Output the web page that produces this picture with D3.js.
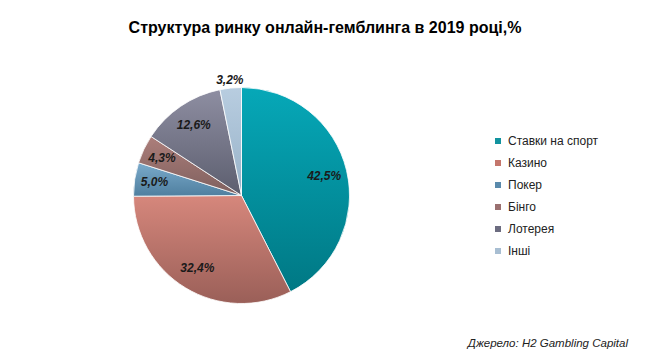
<!DOCTYPE html>
<html>
<head>
<meta charset="utf-8">
<script src="https://cdn.jsdelivr.net/npm/d3@7"></script>
<style>
body { margin: 0; background: #fff; }
svg { font-family: "Liberation Sans", Arial, sans-serif; }
</style>
</head>
<body>
<div id="chart"></div>
<script>
// chart data
var categories = ["Ставки на спорт", "Казино", "Покер", "Бінго", "Лотерея", "Інші"];
var values = [42.5, 32.4, 5.0, 4.3, 12.6, 3.2];
var labels = ["42,5%", "32,4%", "5,0%", "4,3%", "12,6%", "3,2%"];
// light (top) and dark (bottom) colour of each slice
var lightColors = ["#06a8b8", "#d6877c", "#7aaacb", "#ac7e7a", "#8e8ea2", "#b8cde0"];
var darkColors  = ["#007884", "#9a5f58", "#4f7f9f", "#7e605e", "#5c5e6e", "#98b2c8"];
var legendColors = ["#12939f", "#c4766c", "#5a8aac", "#9a7070", "#6c6c80", "#a8bed2"];

var width = 647, height = 361;
var cx = 241.5, cy = 195.5, radius = 108;

var svg = d3.select("#chart").append("svg")
	.attr("width", width)
	.attr("height", height);

// title
svg.append("text")
	.attr("x", 325)
	.attr("y", 33)
	.attr("text-anchor", "middle")
	.attr("font-size", "16px")
	.attr("font-weight", "bold")
	.text("Структура ринку онлайн-гемблинга в 2019 році,%");

// each slice gets its own top-to-bottom gradient
var defs = svg.append("defs");
categories.forEach(function(c, i) {
	var g = defs.append("linearGradient")
		.attr("id", "grad" + i)
		.attr("x1", 0).attr("y1", 0)
		.attr("x2", 0).attr("y2", 1);
	g.append("stop").attr("offset", "0%").attr("stop-color", lightColors[i]);
	g.append("stop").attr("offset", "100%").attr("stop-color", darkColors[i]);
});

var pie = d3.pie().sort(null).value(function(d) { return d; });
var arcs = pie(values);
var arc = d3.arc().innerRadius(0).outerRadius(radius);

var g = svg.append("g");

g.selectAll("path")
	.data(arcs)
	.enter()
	.append("path")
	.attr("transform", "translate(" + cx + "," + cy + ")")
	.attr("d", arc)
	.attr("fill", function(d, i) { return "url(#grad" + i + ")"; })
	.attr("stroke", "#ffffff")
	.attr("stroke-width", 0.8);

// data labels: inside for most, outside for the smallest slice
var labelPos = function(d) {
	var r = d.value < 4 ? 116 : (d.value < 6 ? 88 : 85);
	var a = (d.startAngle + d.endAngle) / 2;
	return [cx + Math.sin(a) * r, cy - Math.cos(a) * r];
};

g.selectAll("text.lbl")
	.data(arcs)
	.enter()
	.append("text")
	.attr("class", "lbl")
	.attr("x", function(d) { return labelPos(d)[0]; })
	.attr("y", function(d) { return labelPos(d)[1]; })
	.attr("dy", "0.35em")
	.attr("text-anchor", "middle")
	.attr("font-size", "12px")
	.attr("font-weight", "bold")
	.attr("font-style", "italic")
	.attr("fill", "#1a1a1a")
	.text(function(d, i) { return labels[i]; });

// legend
var legend = svg.append("g");
var rows = legend.selectAll("g")
	.data(categories)
	.enter()
	.append("g")
	.attr("transform", function(d, i) { return "translate(495," + (141 + i * 22) + ")"; });

rows.append("rect")
	.attr("x", 0)
	.attr("y", -3)
	.attr("width", 6)
	.attr("height", 6)
	.attr("fill", function(d, i) { return legendColors[i]; });

rows.append("text")
	.attr("x", 13)
	.attr("y", 0)
	.attr("dy", "0.35em")
	.attr("font-size", "12px")
	.attr("fill", "#222")
	.text(function(d) { return d; });

// source note
svg.append("text")
	.attr("x", 628)
	.attr("y", 347)
	.attr("text-anchor", "end")
	.attr("font-size", "11.5px")
	.attr("font-style", "italic")
	.attr("fill", "#222")
	.text("Джерело: H2 Gambling Capital");
</script>
</body>
</html>
